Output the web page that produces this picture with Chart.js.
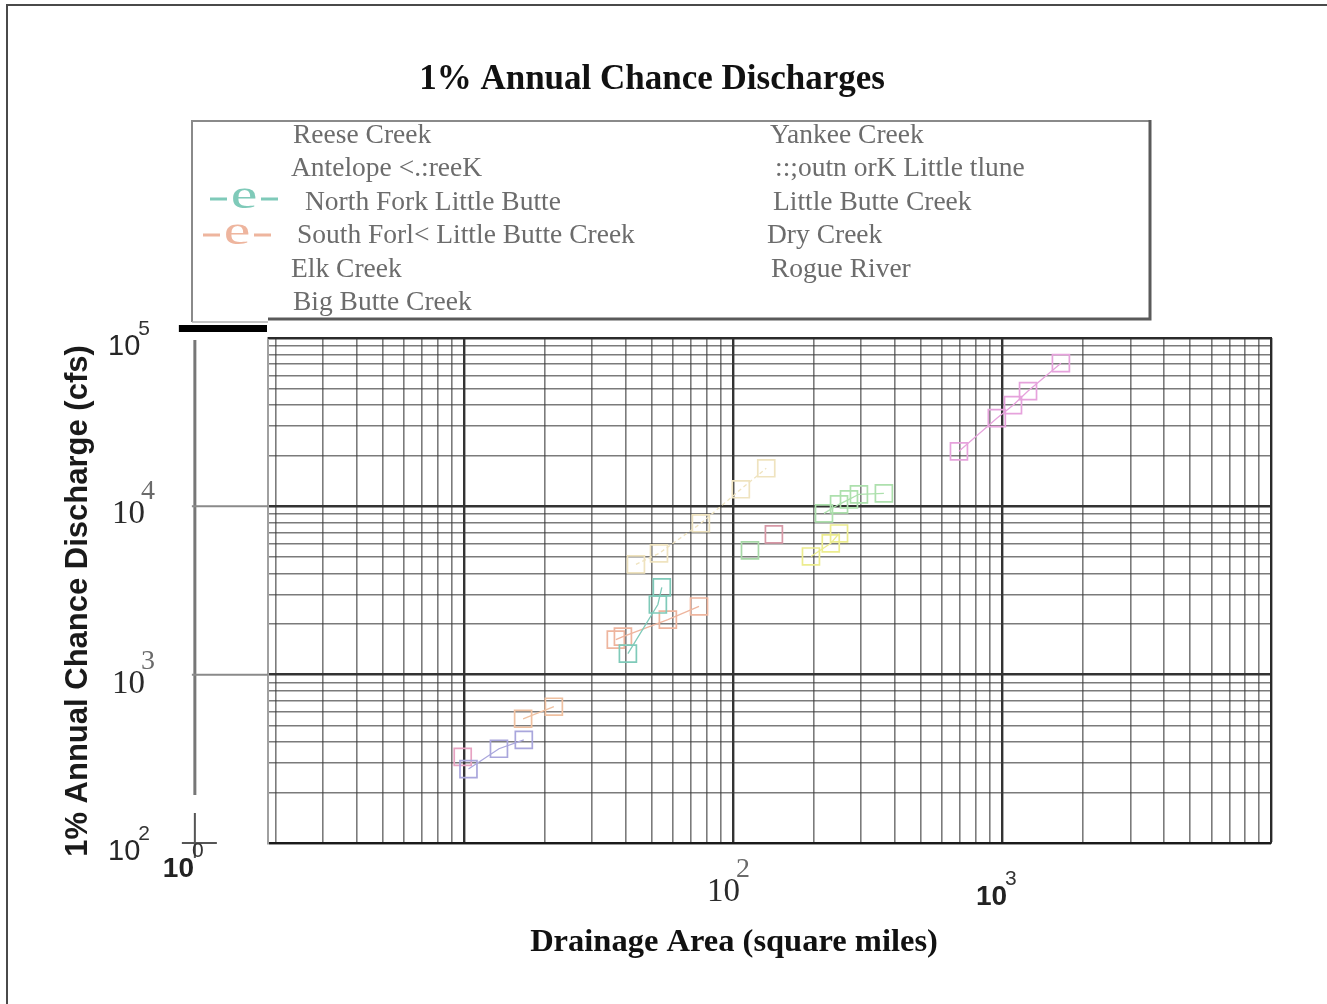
<!DOCTYPE html>
<html>
<head>
<meta charset="utf-8">
<script src="https://cdn.jsdelivr.net/npm/chart.js@4.4.1/dist/chart.umd.min.js"></script>
<style>
  html, body { margin: 0; padding: 0; background: #fff; }
  #wrap { position: relative; width: 1327px; height: 1004px; }
</style>
</head>
<body>
<div id="wrap"><canvas id="chart" width="1327" height="1004"></canvas></div>
<script>
// legend names, as printed in the figure
const seriesNames = [
  "Reese Creek",
  "Antelope <.:reeK",
  "North Fork Little Butte",
  "South Forl< Little Butte Creek",
  "Elk Creek",
  "Big Butte Creek",
  "Yankee Creek",
  "::;outn orK Little tlune",
  "Little Butte Creek",
  "Dry Creek",
  "Rogue River",
];

// drainage area (sq mi) / discharge (cfs) per stream
const reeseArea = [10.4, 13.5, 16.7];
const reeseQ = [275, 363, 410];
const antelopeArea = [16.6, 21.6];
const antelopeQ = [547, 645];
const northForkArea = [40.7, 52.6, 54.4];
const northForkQ = [1334, 2611, 3297];
const southForkArea = [36.7, 39.0, 57.3, 74.8];
const southForkQ = [1614, 1682, 2124, 2542];
const elkArea = [43.6, 53.1, 76, 107, 133];
const elkQ = [4520, 5250, 7930, 12630, 16830];
const bigButteArea = [115.7];
const bigButteQ = [5470];
const yankeeArea = [9.9];
const yankeeQ = [325];
const southForkUpperArea = [142];
const southForkUpperQ = [6815];
const littleButteArea = [218, 248, 270, 294, 364];
const littleButteQ = [9085, 10280, 11000, 11790, 11950];
const dryArea = [195, 231, 248];
const dryQ = [5036, 6025, 6900];
const rogueArea = [692, 957, 1099, 1250, 1656];
const rogueQ = [21230, 33400, 39900, 48400, 70900];

const seriesArea = [reeseArea, antelopeArea, northForkArea, southForkArea, elkArea, bigButteArea,
  yankeeArea, southForkUpperArea, littleButteArea, dryArea, rogueArea];
const seriesQ = [reeseQ, antelopeQ, northForkQ, southForkQ, elkQ, bigButteQ,
  yankeeQ, southForkUpperQ, littleButteQ, dryQ, rogueQ];

// tick labels (10^n)
const xTickValues = [1, 100, 1000];
const xTickExps = ["0", "2", "3"];
const yTickValues = [100000, 10000, 1000, 100];
const yTickExps = ["5", "4", "3", "2"];

// washed out scan colours
const seriesColors = ["#a9a6dc", "#efc0a0", "#7fcab9", "#eeb59e", "#efe3bf", "#a6d8a6",
  "#e7a3c2", "#d798a6", "#ade0ad", "#ecec8e", "#e6a2dc"];

const datasets = seriesNames.map((name, i) => ({
  label: name,
  data: seriesArea[i].map((a, j) => ({ x: a, y: seriesQ[i][j] })),
  borderColor: seriesColors[i],
  backgroundColor: "rgba(255,255,255,0)",
  borderWidth: 1.3,
  borderDash: i === 4 ? [4, 3] : [],
  pointStyle: "rect",
  pointRadius: 12,
  pointBorderWidth: 1.7,
  showLine: true,
}));

function isDecade(v) {
  const l = Math.log10(v);
  return Math.abs(l - Math.round(l)) < 1e-9;
}

// grid lines at 1..9 x 10^n
function decadeGrid(scale) {
  const out = [];
  for (let e = Math.floor(Math.log10(scale.min)); e <= Math.ceil(Math.log10(scale.max)); e++) {
    for (let m = 1; m <= 9; m++) {
      const v = m * Math.pow(10, e);
      if (v >= scale.min * 0.9999 && v <= scale.max * 1.0001) out.push({ value: v });
    }
  }
  scale.ticks = out;
}

function drawPow(ctx, x, y, base, exp, st) {
  ctx.textAlign = "left";
  ctx.textBaseline = "alphabetic";
  ctx.font = st.font;
  ctx.fillStyle = st.color;
  ctx.fillText(base, x, y);
  const w = ctx.measureText(base).width;
  ctx.font = st.expFont;
  ctx.fillStyle = st.expColor;
  ctx.fillText(exp, x + w + st.dx, y - st.rise);
}

const sansLbl = { font: "29px 'Liberation Sans'", color: "#262626", expFont: "21px 'Liberation Sans'", expColor: "#333", dx: -2, rise: 20 };
const sansBoldLbl = { font: "bold 28px 'Liberation Sans'", color: "#222", expFont: "21px 'Liberation Sans'", expColor: "#333", dx: -2, rise: 20 };
const serifLbl = { font: "33px 'Liberation Serif'", color: "#2a2a2a", expFont: "28px 'Liberation Serif'", expColor: "#6a6a6a", dx: -4, rise: 24 };
const yLblStyle = [sansLbl, serifLbl, serifLbl, sansLbl];
const xLblStyle = [sansBoldLbl, serifLbl, sansBoldLbl];

const decor = {
  id: "decor",
  beforeDraw(chart) {
    const ctx = chart.ctx;
    ctx.save();
    // page frame
    ctx.strokeStyle = "#4a4a4a";
    ctx.lineWidth = 2;
    ctx.beginPath();
    ctx.moveTo(7, 1004); ctx.lineTo(7, 5); ctx.lineTo(1327, 5);
    ctx.stroke();

    // legend box
    ctx.strokeStyle = "#8a8a8a";
    ctx.lineWidth = 2;
    ctx.beginPath();
    ctx.moveTo(192, 322); ctx.lineTo(192, 121); ctx.lineTo(1150, 121);
    ctx.stroke();
    ctx.strokeStyle = "#5a5a5a";
    ctx.lineWidth = 3;
    ctx.beginPath();
    ctx.moveTo(1150, 120); ctx.lineTo(1150, 319); ctx.lineTo(268, 319);
    ctx.stroke();
    ctx.strokeStyle = "#b0b0b0";
    ctx.lineWidth = 1.5;
    ctx.beginPath();
    ctx.moveTo(192, 322); ctx.lineTo(268, 322);
    ctx.stroke();

    // legend entries, 6 left + 5 right
    ctx.font = "27.5px 'Liberation Serif'";
    ctx.fillStyle = "#6c6c6c";
    ctx.textBaseline = "alphabetic";
    ctx.textAlign = "left";
    const leftDx = [0, -2, 12, 4, -2, 0];
    const rightDx = [0, 5, 3, -3, 1];
    seriesNames.forEach((name, i) => {
      const col = i < 6 ? 0 : 1;
      const row = col ? i - 6 : i;
      const x = col ? 770 + rightDx[row] : 293 + leftDx[row];
      const y = 143 + row * 33.4;
      ctx.fillText(name, x, y);
    });
    // only the two fork markers show in the scan
    [[2, 210, 199], [3, 203, 235]].forEach(([i, x0, y]) => {
      ctx.strokeStyle = seriesColors[i];
      ctx.fillStyle = seriesColors[i];
      ctx.lineWidth = 3;
      ctx.beginPath();
      ctx.moveTo(x0, y); ctx.lineTo(x0 + 17, y);
      ctx.moveTo(x0 + 51, y); ctx.lineTo(x0 + 68, y);
      ctx.stroke();
      ctx.save();
      ctx.translate(x0 + 34, y + 9);
      ctx.scale(1.5, 1);
      ctx.font = "40px 'Liberation Serif'";
      ctx.textAlign = "center";
      ctx.fillText("e", 0, 0);
      ctx.restore();
    });
    ctx.restore();
  },
  afterDraw(chart) {
    const ctx = chart.ctx;
    const xs = chart.scales.x, ys = chart.scales.y;
    const a = chart.chartArea;
    ctx.save();

    // top and right edges of the plot box
    ctx.strokeStyle = "#2a2a2a";
    ctx.lineWidth = 2;
    ctx.beginPath();
    ctx.moveTo(a.left, a.top); ctx.lineTo(a.right, a.top); ctx.lineTo(a.right, a.bottom);
    ctx.stroke();

    // the odd axis drawn at x = 10^0
    const x0 = xs.getPixelForValue(1);
    ctx.strokeStyle = "#777";
    ctx.lineWidth = 3;
    ctx.beginPath();
    ctx.moveTo(x0, ys.getPixelForValue(100000) + 2);
    ctx.lineTo(x0, ys.getPixelForValue(100) - 48);
    ctx.stroke();
    ctx.lineWidth = 2;
    ctx.strokeStyle = "#8a8a8a";
    [10000, 1000].forEach(v => {
      const y = ys.getPixelForValue(v);
      ctx.beginPath(); ctx.moveTo(x0 - 3, y); ctx.lineTo(a.left, y); ctx.stroke();
    });
    ctx.fillStyle = "#000";
    ctx.fillRect(x0 - 16, ys.getPixelForValue(100000) - 13, a.left - x0 + 15, 7);
    const y2 = ys.getPixelForValue(100);
    ctx.strokeStyle = "#555";
    ctx.lineWidth = 2;
    ctx.beginPath();
    ctx.moveTo(x0, y2 - 30); ctx.lineTo(x0, y2 + 15);
    ctx.moveTo(x0 - 13, y2); ctx.lineTo(x0 + 22, y2);
    ctx.stroke();

    // tick labels
    const yLeft = [108, 112, 112, 108];
    const yDrop = [17, 17, 18, 17];
    yTickValues.forEach((v, i) => {
      drawPow(ctx, yLeft[i], ys.getPixelForValue(v) + yDrop[i], "10", yTickExps[i], yLblStyle[i]);
    });
    const xShift = [-32, -26, -26];
    const xBase = [877, 901, 905];
    xTickValues.forEach((v, i) => {
      drawPow(ctx, xs.getPixelForValue(v) + xShift[i], xBase[i], "10", xTickExps[i], xLblStyle[i]);
    });

    // titles
    ctx.fillStyle = "#111";
    ctx.textAlign = "center";
    ctx.font = "bold 35px 'Liberation Serif'";
    ctx.fillText("1% Annual Chance Discharges", 652, 89);
    ctx.font = "bold 32.5px 'Liberation Serif'";
    ctx.fillText("Drainage Area (square miles)", 734, 951);
    ctx.translate(87, 601);
    ctx.rotate(-Math.PI / 2);
    ctx.font = "bold 31px 'Liberation Sans'";
    ctx.fillStyle = "#1a1a1a";
    ctx.fillText("1% Annual Chance Discharge (cfs)", 0, 0);
    ctx.restore();
  },
};

function gridColor(c) {
  return c.tick && isDecade(c.tick.value) ? "#333" : "rgba(60,60,60,0.68)";
}
function gridWidth(c) {
  return c.tick && isDecade(c.tick.value) ? 2.4 : 1.6;
}

new Chart(document.getElementById("chart"), {
  type: "scatter",
  data: { datasets },
  plugins: [decor],
  options: {
    responsive: false,
    animation: false,
    devicePixelRatio: 1,
    layout: { padding: { left: 268, right: 56, top: 338, bottom: 161 } },
    plugins: { legend: { display: false }, tooltip: { enabled: false } },
    scales: {
      x: {
        type: "logarithmic",
        min: 1.87,
        max: 10000,
        afterBuildTicks: decadeGrid,
        ticks: { display: false },
        grid: { drawTicks: false, color: gridColor, lineWidth: gridWidth },
        border: { display: true, color: "#1a1a1a", width: 2 },
      },
      y: {
        type: "logarithmic",
        min: 100,
        max: 100000,
        afterBuildTicks: decadeGrid,
        ticks: { display: false },
        grid: { drawTicks: false, color: gridColor, lineWidth: gridWidth },
        border: { display: true, color: "#a0a0a0", width: 2 },
      },
    },
  },
});
</script>
</body>
</html>
